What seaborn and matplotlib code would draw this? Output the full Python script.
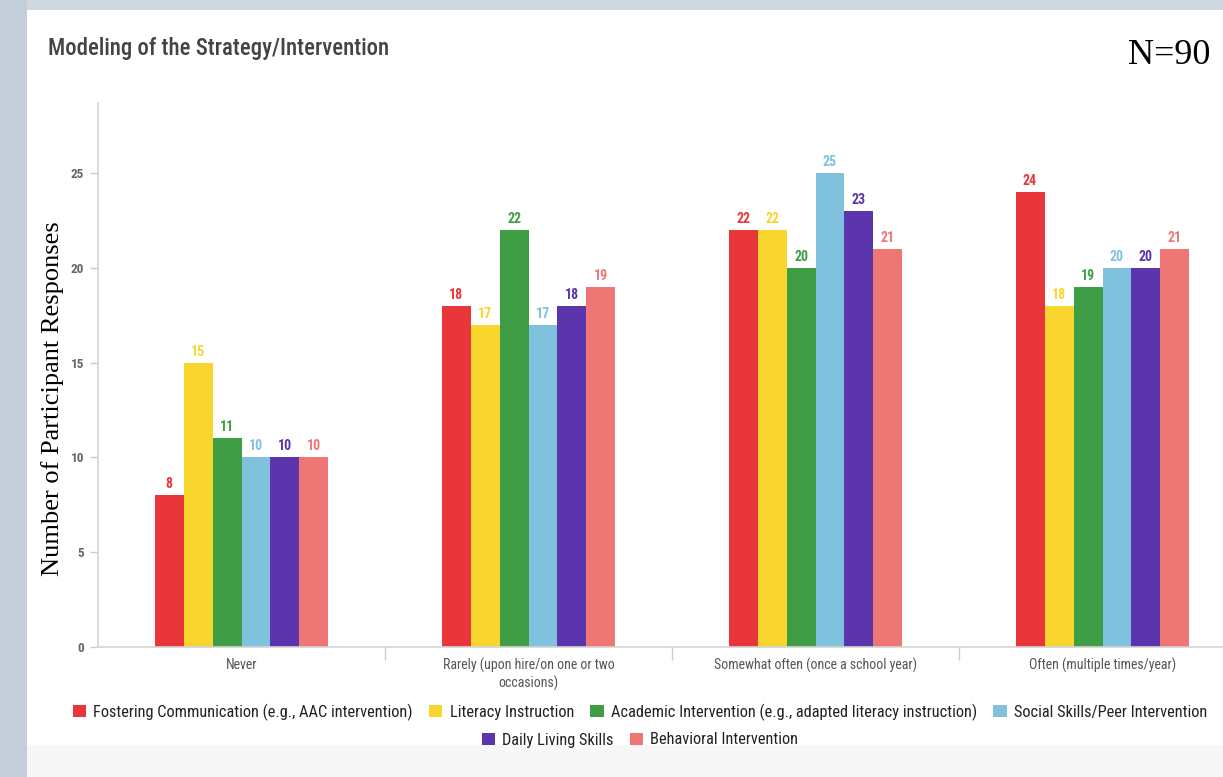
import matplotlib
matplotlib.use("Agg")
import matplotlib.pyplot as plt
from matplotlib.patches import Rectangle
import seaborn as sns
import pandas as pd
from matplotlib import font_manager

categories = ["Never", "Rarely (upon hire/on one or two\noccasions)",
              "Somewhat often (once a school year)", "Often (multiple times/year)"]
series = ["Fostering Communication (e.g., AAC intervention)", "Literacy Instruction",
          "Academic Intervention (e.g., adapted literacy instruction)",
          "Social Skills/Peer Intervention", "Daily Living Skills", "Behavioral Intervention"]
fostering = [8, 18, 22, 24]
literacy = [15, 17, 22, 18]
academic = [11, 22, 20, 19]
social = [10, 17, 25, 20]
daily = [10, 18, 23, 20]
behavioral = [10, 19, 21, 21]
colors = ["#e8363a", "#f8d62e", "#3f9e45", "#80c1de", "#5b35ab", "#ee7674"]
yticks = [0, 5, 10, 15, 20, 25]

values = [fostering, literacy, academic, social, daily, behavioral]
rows = []
for s, vals in zip(series, values):
    for c, v in zip(categories, vals):
        rows.append({"Category": c, "Series": s, "Value": v})
df = pd.DataFrame(rows)

sns.set_theme(style="white")

# pick a condensed sans if one is installed
entries = font_manager.fontManager.ttflist
names = {f.name for f in entries}
family = "Roboto"
stretch = "normal"
for cand in ["Roboto Condensed", "Liberation Sans Narrow", "Open Sans Condensed",
             "Noto Sans Condensed", "DejaVu Sans Condensed"]:
    if cand in names:
        family = cand
        break
else:
    for f in entries:
        st = str(f.stretch).lower()
        if f.name in ("Noto Sans", "DejaVu Sans", "Open Sans", "Roboto") and "condensed" in st:
            family = f.name
            stretch = "condensed"
            break
plt.rcParams["font.family"] = [family, "DejaVu Sans"]
plt.rcParams["font.stretch"] = stretch

W, H = 1223, 777
fig = plt.figure(figsize=(W / 100, H / 100), dpi=100)
fig.patch.set_facecolor("#cfd8e3")
fig.add_artist(Rectangle((0, 0), 27 / W, 1, transform=fig.transFigure,
                         facecolor="#c4cedb", edgecolor="none", zorder=-3))
fig.add_artist(Rectangle((27 / W, 1 - 745 / H), 1 - 27 / W, (745 - 10) / H,
                         transform=fig.transFigure, facecolor="white", edgecolor="none", zorder=-2))
fig.add_artist(Rectangle((27 / W, 0), 1 - 27 / W, 1 - 745 / H,
                         transform=fig.transFigure, facecolor="#f7f7f7", edgecolor="none", zorder=-2))

ax = fig.add_axes([98 / W, 1 - 647 / H, (W - 98) / W, (647 - 103) / H])
ax.set_facecolor("none")

sns.barplot(data=df, x="Category", y="Value", hue="Series", hue_order=series,
            order=categories, palette=colors, width=0.606, saturation=1,
            ax=ax, errorbar=None, edgecolor="none", linewidth=0)

handles, labels = ax.get_legend_handles_labels()
if ax.get_legend() is not None:
    ax.get_legend().remove()

for cont, col in zip(ax.containers, colors):
    ax.bar_label(cont, labels=[f"{int(v)}" for v in cont.datavalues], padding=3,
                 color=col, fontsize=10, fontweight="bold")

ax.set_xlim(-0.5, -0.5 + (W - 98) / 287)
ax.set_ylim(0, 28.7)
ax.set_yticks(yticks)
ax.set_yticklabels([str(t) for t in yticks], color="#666666", fontsize=9.5, fontweight="bold")
ax.tick_params(axis="y", length=6, color="#cccccc", width=1, pad=4, left=True)
ax.set_xticks(range(len(categories)))
ax.set_xticklabels(categories, color="#555555", fontsize=10)
ax.tick_params(axis="x", length=0, pad=8)
ax.set_xticks([0.5, 1.5, 2.5], minor=True)
ax.tick_params(axis="x", which="minor", length=9, color="#cccccc", width=1, bottom=True)

for side in ["top", "right"]:
    ax.spines[side].set_visible(False)
for side in ["left", "bottom"]:
    ax.spines[side].set_color("#d4d4d4")
    ax.spines[side].set_linewidth(1.2)

ax.set_xlabel("")
ax.set_ylabel("Number of Participant Responses", family=["Liberation Serif", "DejaVu Serif"],
              fontsize=19, color="black", stretch="normal")
ax.yaxis.set_label_coords(-0.030, 0.456)

title = fig.text(48 / W, 1 - 48 / H, "Modeling of the Strategy/Intervention", fontsize=16,
                 color="#444444", ha="left", va="center", fontweight="medium")
fig.text(1210 / W, 1 - 56 / H, "N=90", family=["Liberation Serif", "DejaVu Serif"],
         fontsize=26, color="black", ha="right", va="center", stretch="normal")


def make_legends(fs):
    kw = dict(frameon=False, fontsize=fs, handlelength=0.8, handleheight=0.8,
              handletextpad=0.45, columnspacing=1.0, borderaxespad=0, borderpad=0,
              labelcolor="#222222")
    l1 = fig.legend(handles[:4], labels[:4], loc="center", ncol=4,
                    bbox_to_anchor=(640 / W, 1 - 712 / H), **kw)
    l2 = fig.legend(handles[4:], labels[4:], loc="center", ncol=2,
                    bbox_to_anchor=(640 / W, 1 - 740 / H), **kw)
    return l1, l2


fs = 12.5
l1, l2 = make_legends(fs)
fig.canvas.draw()
r = fig.canvas.get_renderer()
wid = l1.get_window_extent(r).width
tw = title.get_window_extent(r).width
l1.remove()
l2.remove()
fs = min(13.5, fs * 1142 / wid)
l1, l2 = make_legends(fs)

# fit title width to reference
title.set_fontsize(min(18, 16 * 342 / tw))

fig.savefig("out.png", dpi=100, facecolor=fig.get_facecolor())
